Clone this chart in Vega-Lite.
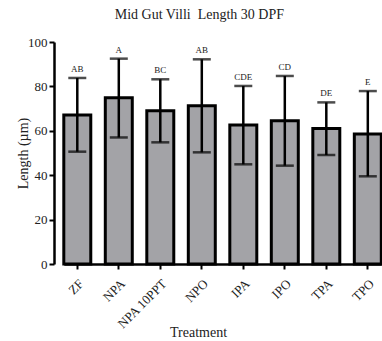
{
  "$schema": "https://vega.github.io/schema/vega-lite/v6.json",
  "autosize": "none",
  "width": 328,
  "height": 222,
  "padding": {"left": 54, "top": 42, "right": 0, "bottom": 77},
  "background": "white",
  "config": {
    "font": "Liberation Serif",
    "view": {"stroke": null},
    "axis": {"labelFont": "Liberation Serif", "titleFont": "Liberation Serif", "labelColor": "#222", "titleColor": "#222", "titleFontWeight": "normal", "grid": false, "domainColor": "black", "tickColor": "black"}
  },
  "title": {"text": "Mid Gut Villi\u00a0 Length 30 DPF", "font": "Liberation Serif", "fontSize": 14, "fontWeight": "normal", "color": "#222", "offset": 14, "anchor": "middle", "frame": "bounds"},
  "data": {"values": [
    {"treatment": "ZF", "mean": 67.1, "lower": 50.6, "upper": 83.8, "letter": "AB"},
    {"treatment": "NPA", "mean": 74.9, "lower": 57.0, "upper": 92.5, "letter": "A"},
    {"treatment": "NPA 10PPT", "mean": 69.0, "lower": 54.8, "upper": 83.2, "letter": "BC"},
    {"treatment": "NPO", "mean": 71.3, "lower": 50.3, "upper": 92.2, "letter": "AB"},
    {"treatment": "IPA", "mean": 62.6, "lower": 44.9, "upper": 80.2, "letter": "CDE"},
    {"treatment": "IPO", "mean": 64.5, "lower": 44.3, "upper": 84.7, "letter": "CD"},
    {"treatment": "TPA", "mean": 61.0, "lower": 49.1, "upper": 72.8, "letter": "DE"},
    {"treatment": "TPO", "mean": 58.6, "lower": 39.5, "upper": 77.9, "letter": "E"}
  ]},
  "encoding": {
    "x": {"field": "treatment", "type": "nominal", "sort": null,
      "scale": {"range": [9.8, 327.3], "paddingInner": 0.35, "paddingOuter": 0},
      "axis": {"title": "Treatment", "titleFontSize": 14, "labelFontSize": 13, "labelAngle": -45, "domainWidth": 2.5, "tickWidth": 2, "tickSize": 5, "labelPadding": 8, "titleX": 144, "titleY": 72, "titleBaseline": "alphabetic"}}
  },
  "layer": [
    {
      "mark": {"type": "bar", "fill": "#a3a3a7", "stroke": "black", "strokeWidth": 3},
      "encoding": {
        "y": {"field": "mean", "type": "quantitative", "scale": {"domain": [0, 100], "nice": false},
          "axis": {"title": "Length (µm)", "titleFontSize": 14, "labelFontSize": 13, "values": [0, 20, 40, 60, 80, 100], "domainWidth": 2.5, "tickWidth": 2, "tickSize": 5, "labelPadding": 2, "titleX": -31, "titleBaseline": "middle", "titleAlign": "center"}}
      }
    },
    {
      "mark": {"type": "rule", "color": "black", "strokeWidth": 2.5},
      "encoding": {"y": {"field": "lower", "type": "quantitative"}, "y2": {"field": "upper"}}
    },
    {
      "mark": {"type": "tick", "color": "black", "thickness": 2.5, "size": 18},
      "encoding": {"y": {"field": "upper", "type": "quantitative"}}
    },
    {
      "mark": {"type": "tick", "color": "black", "thickness": 2.5, "size": 18},
      "encoding": {"y": {"field": "lower", "type": "quantitative"}}
    },
    {
      "mark": {"type": "text", "font": "Liberation Serif", "fontSize": 9, "color": "#222", "baseline": "alphabetic", "dy": -6},
      "encoding": {"y": {"field": "upper", "type": "quantitative"}, "text": {"field": "letter"}}
    }
  ]
}
